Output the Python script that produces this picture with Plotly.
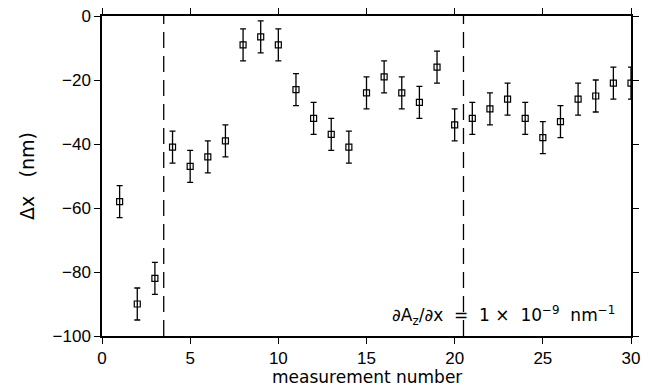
import plotly.graph_objects as go

measurement = list(range(1, 31))
delta_x = [-58, -90, -82, -41, -47, -44, -39, -9, -6.5, -9,
           -23, -32, -37, -41, -24, -19, -24, -27, -16, -34,
           -32, -29, -26, -32, -38, -33, -26, -25, -21, -21]
errors = [5] * 30
divider_positions = [3.5, 20.5]
x_ticks = [0, 5, 10, 15, 20, 25, 30]
y_ticks = [0, -20, -40, -60, -80, -100]

FONT = "Liberation Sans, Arial, sans-serif"
TFONT = "DejaVu Sans, sans-serif"
SP = "\u00a0"

fig = go.Figure()
fig.add_trace(go.Scatter(
    x=measurement, y=delta_x, mode="markers",
    marker=dict(symbol="square-open", size=6, color="black", line=dict(width=1.2)),
    error_y=dict(type="data", array=errors, visible=True, color="black", thickness=1.3, width=3),
    showlegend=False,
))

for xp in divider_positions:
    fig.add_shape(type="line", x0=xp, x1=xp, y0=-100, y1=0, xref="x", yref="y",
                  line=dict(color="black", width=1.3, dash="16px,8px"))

fig.add_annotation(
    text=f"∂A<sub>z</sub>/∂x{SP}{SP}={SP}{SP}1{SP}×{SP}{SP}10<sup>−9</sup>{SP}{SP}nm<sup>−1</sup>",
    xref="paper", yref="paper", x=0.974, y=0.02, xanchor="right", yanchor="bottom",
    showarrow=False, font=dict(family=TFONT, size=17, color="black"),
)

# axis titles as annotations for precise placement
fig.add_annotation(
    text="measurement number", xref="paper", yref="paper", x=0.5, y=-0.128,
    xanchor="center", yanchor="middle", showarrow=False, borderpad=0,
    font=dict(family=TFONT, size=17, color="black"),
)
fig.add_annotation(
    text=f"Δx{SP}{SP}{SP}(nm)", xref="paper", yref="paper", x=-0.142, y=0.5,
    xanchor="center", yanchor="middle", textangle=-90, showarrow=False,
    font=dict(family=TFONT, size=19, color="black"),
)

axis_common = dict(
    showgrid=False, zeroline=False, showline=True, linecolor="black", linewidth=1.5,
    mirror="ticks", ticks="outside", ticklen=6, tickwidth=1.3, tickcolor="black",
    tickfont=dict(family=FONT, size=17, color="black"), automargin=False,
)

fig.update_xaxes(range=[0, 30], tickvals=x_ticks, **axis_common)
fig.update_yaxes(range=[-100, 0], tickvals=y_ticks,
                 ticktext=[str(v).replace("-", "−") for v in y_ticks],
                 **axis_common)

fig.update_layout(
    width=662, height=386,
    margin=dict(l=102, r=31, t=16, b=50),
    plot_bgcolor="white", paper_bgcolor="white",
    font=dict(family=FONT, color="black"),
)

fig.write_html("out.html")
